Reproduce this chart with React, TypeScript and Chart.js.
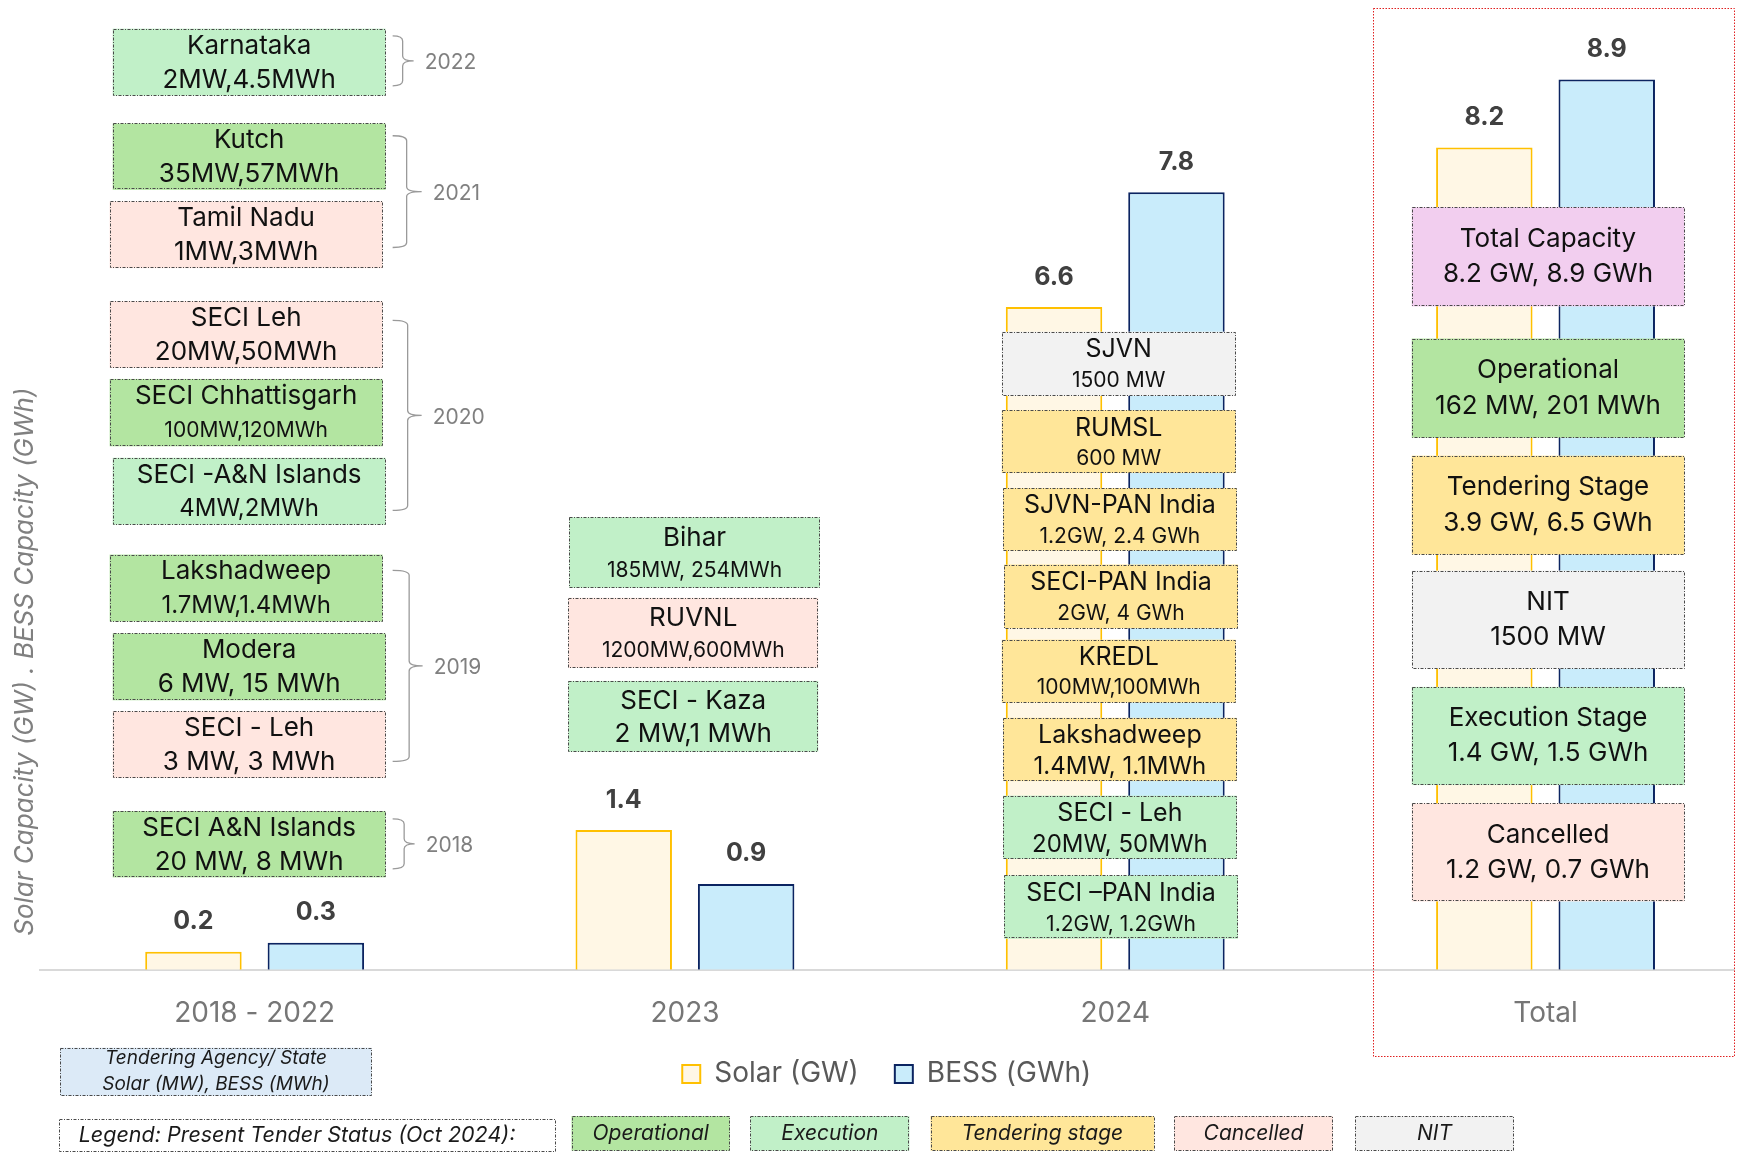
import React, { useEffect, useRef } from 'react';
import { Chart, registerables } from 'chart.js';

Chart.register(...registerables);

const FONT = 'Inter, "Noto Sans", sans-serif';

// ---------- data ----------
const categories = ['2018 - 2022', '2023', '2024', 'Total'];
const solarGW = [0.18, 1.4, 6.64, 8.24];
const bessGWh = [0.27, 0.86, 7.79, 8.92];

const statusColors: Record<string, string> = {
  op: '#B3E5A1',
  exec: '#C1F0C8',
  tender: '#FFE699',
  cancel: '#FFE6E0',
  nit: '#F2F2F2',
  total: '#F2CEEF',
};

const tenders2018to2022 = [
  ['Karnataka', '2MW,4.5MWh', 'exec'],
  ['Kutch', '35MW,57MWh', 'op'],
  ['Tamil Nadu', '1MW,3MWh', 'cancel'],
  ['SECI Leh', '20MW,50MWh', 'cancel'],
  ['SECI Chhattisgarh', '100MW,120MWh', 'op'],
  ['SECI -A&N Islands', '4MW,2MWh', 'exec'],
  ['Lakshadweep', '1.7MW,1.4MWh', 'op'],
  ['Modera', '6 MW, 15 MWh', 'op'],
  ['SECI - Leh', '3 MW, 3 MWh', 'cancel'],
  ['SECI A&N Islands', '20 MW, 8 MWh', 'op'],
];
const tenders2023 = [
  ['Bihar', '185MW, 254MWh', 'exec'],
  ['RUVNL', '1200MW,600MWh', 'cancel'],
  ['SECI - Kaza', '2 MW,1 MWh', 'exec'],
];
const tenders2024 = [
  ['SJVN', '1500 MW', 'nit'],
  ['RUMSL', '600 MW', 'tender'],
  ['SJVN-PAN India', '1.2GW, 2.4 GWh', 'tender'],
  ['SECI-PAN India', '2GW, 4 GWh', 'tender'],
  ['KREDL', '100MW,100MWh', 'tender'],
  ['Lakshadweep', '1.4MW, 1.1MWh', 'tender'],
  ['SECI - Leh', '20MW, 50MWh', 'exec'],
  ['SECI \u2013PAN India', '1.2GW, 1.2GWh', 'exec'],
];
const totalSummary = [
  ['Total Capacity', '8.2 GW, 8.9 GWh', 'total'],
  ['Operational', '162 MW, 201 MWh', 'op'],
  ['Tendering Stage', '3.9 GW, 6.5 GWh', 'tender'],
  ['NIT', '1500 MW', 'nit'],
  ['Execution Stage', '1.4 GW, 1.5 GWh', 'exec'],
  ['Cancelled', '1.2 GW, 0.7 GWh', 'cancel'],
];
const bracketYears = ['2022', '2021', '2020', '2019', '2018'];
const statusLegend = [
  ['Operational', 'op'],
  ['Execution', 'exec'],
  ['Tendering stage', 'tender'],
  ['Cancelled', 'cancel'],
  ['NIT', 'nit'],
];
const legendCaption = 'Legend: Present Tender Status (Oct 2024):';
const agencyNote = ['Tendering Agency/ State', 'Solar (MW), BESS (MWh)'];
const yTitle = 'Solar Capacity (GW) . BESS Capacity (GWh)';

// ---------- layout (positions / sizes) ----------
// [valueTop, valueBottom, dxLeft, dxRight, titleSize, subSize]
const layout2018to2022 = [
  [9.43, 8.76, -142, 131, 26, 26],
  [8.48, 7.815, -142, 131, 26, 26],
  [7.7, 7.03, -145, 128, 26, 26],
  [6.7, 6.03, -145, 128, 26, 26],
  [5.92, 5.245, -145, 128, 26, 21],
  [5.13, 4.46, -142, 131, 26, 24],
  [4.16, 3.49, -145, 128, 26, 24],
  [3.37, 2.7, -142, 131, 26, 26],
  [2.59, 1.92, -142, 131, 26, 26],
  [1.59, 0.925, -142, 131, 26, 26],
];
const layout2023 = [
  [4.534, 3.827, -115.7, 135, 26, 21],
  [3.727, 3.024, -116.7, 133.3, 26, 21],
  [2.894, 2.184, -116.7, 133.3, 26, 26],
];
const layout2024 = [
  [6.394, 5.75, -113.5, 120.5, 25, 21],
  [5.607, 4.977, -113.5, 120.5, 25, 21],
  [4.827, 4.2, -112.2, 121.5, 25, 21],
  [4.06, 3.422, -111.2, 122.8, 25, 21],
  [3.307, 2.677, -113.5, 120.5, 25, 21],
  [2.524, 1.89, -112.2, 121.5, 25, 24],
  [1.744, 1.11, -112.2, 121.5, 25, 24],
  [0.944, 0.31, -111.2, 122.8, 25, 21],
];
const layoutTotal = [
  [7.642, 6.647, -133.8, 138.8, 26, 26],
  [6.325, 5.331, -133.8, 138.8, 26, 26],
  [5.151, 4.161, -133.8, 138.8, 26, 26],
  [4.0, 3.017, -133.8, 138.8, 26, 26],
  [2.834, 1.85, -133.8, 138.8, 26, 26],
  [1.667, 0.684, -133.8, 138.8, 26, 26],
];
const groups = [
  { cat: 0, items: tenders2018to2022, layout: layout2018to2022, frac: [0.255, 0.765] },
  { cat: 1, items: tenders2023, layout: layout2023, frac: [0.29, 0.757] },
  { cat: 2, items: tenders2024, layout: layout2024, frac: [0.285, 0.77] },
  { cat: 3, items: totalSummary, layout: layoutTotal, frac: [0.32, 0.68] },
];
// [valueTop, valueBottom, dxStart, dxVertical, dxTip]
const bracketLayout = [
  [9.357, 8.857, 138, 148, 159],
  [8.357, 7.237, 138, 152, 167],
  [6.507, 4.602, 138, 153, 167],
  [4.002, 2.087, 138, 154.5, 168],
  [1.511, 1.011, 138, 149.5, 160],
];
const statusLegendX = [
  [571.5, 729.9],
  [750.4, 909.4],
  [930.5, 1154.2],
  [1174, 1333],
  [1355, 1514],
];

function dashedBox(ctx: CanvasRenderingContext2D, x1: number, y1: number, x2: number, y2: number, fill: string, stroke = '#4a4a4a', dash = [3, 1.5, 1, 1.5]) {
  ctx.save();
  if (fill) {
    ctx.fillStyle = fill;
    ctx.fillRect(x1, y1, x2 - x1, y2 - y1);
  }
  ctx.setLineDash(dash);
  ctx.lineWidth = 1;
  ctx.strokeStyle = stroke;
  ctx.strokeRect(Math.round(x1) + 0.5, Math.round(y1) + 0.5, Math.round(x2 - x1) - 1, Math.round(y2 - y1) - 1);
  ctx.restore();
}

const overlayPlugin = {
  id: 'overlay',
  afterDatasetsDraw(chart: any) {
    const ctx: CanvasRenderingContext2D = chart.ctx;
    const xs = chart.scales.x;
    const ys = chart.scales.y;
    const X = (i: number, dx: number) => xs.getPixelForValue(i) + dx;
    const Y = (v: number) => ys.getPixelForValue(v);

    ctx.save();
    // bar value labels
    ctx.font = `bold 25px ${FONT}`;
    ctx.fillStyle = '#404040';
    ctx.textAlign = 'center';
    ctx.textBaseline = 'middle';
    [solarGW, bessGWh].forEach((vals, di) => {
      const meta = chart.getDatasetMeta(di);
      meta.data.forEach((bar: any, i: number) => {
        ctx.fillText(vals[i].toFixed(1), bar.x, bar.y - 30);
      });
    });

    // tender boxes
    groups.forEach((g) => {
      g.items.forEach((it, k) => {
        const [vt, vb, dl, dr, ts, ss] = g.layout[k];
        const x1 = X(g.cat, dl);
        const x2 = X(g.cat, dr);
        const y1 = Y(vt);
        const y2 = Y(vb);
        dashedBox(ctx, x1, y1, x2, y2, statusColors[it[2]]);
        const cx = (x1 + x2) / 2;
        const h = y2 - y1;
        ctx.fillStyle = '#111111';
        ctx.textAlign = 'center';
        ctx.textBaseline = 'middle';
        ctx.font = `${ts}px ${FONT}`;
        ctx.fillText(it[0], cx, y1 + h * g.frac[0]);
        ctx.font = `${ss}px ${FONT}`;
        ctx.fillText(it[1], cx, y1 + h * g.frac[1]);
      });
    });

    // year brackets
    bracketYears.forEach((yr, k) => {
      const [vt, vb, ds, dv, dt] = bracketLayout[k];
      const top = Y(vt);
      const bot = Y(vb);
      const mid = (top + bot) / 2;
      const x0 = X(0, ds);
      const xv = X(0, dv);
      const xt = X(0, dt);
      const r = 5;
      ctx.save();
      ctx.strokeStyle = '#9a9a9a';
      ctx.lineWidth = 1.3;
      ctx.beginPath();
      ctx.moveTo(x0, top);
      ctx.quadraticCurveTo(xv, top, xv, top + r);
      ctx.lineTo(xv, mid - r);
      ctx.quadraticCurveTo(xv, mid, xt, mid);
      ctx.quadraticCurveTo(xv, mid, xv, mid + r);
      ctx.lineTo(xv, bot - r);
      ctx.quadraticCurveTo(xv, bot, x0, bot);
      ctx.stroke();
      ctx.restore();
      ctx.fillStyle = '#808080';
      ctx.font = `21px ${FONT}`;
      ctx.textAlign = 'left';
      ctx.textBaseline = 'middle';
      ctx.fillText(yr, xt + 11, mid + 2);
    });

    // red dotted frame round the totals
    dashedBox(ctx, X(3, -172.8), Y(9.638), X(3, 189.5), Y(-0.873), '', '#e02020', [1.5, 1.5]);

    // y axis title
    ctx.save();
    ctx.translate(chart.chartArea.left - 14, Y(3.087));
    ctx.rotate(-Math.PI / 2);
    ctx.font = `italic 26px ${FONT}`;
    ctx.fillStyle = '#808080';
    ctx.textAlign = 'center';
    ctx.textBaseline = 'middle';
    ctx.fillText(yTitle, 0, 0);
    ctx.restore();

    // agency note
    dashedBox(ctx, 60, 1047.7, 371.7, 1096, '#DCEAF7');
    ctx.fillStyle = '#1a1a1a';
    ctx.font = `italic 19px ${FONT}`;
    ctx.textAlign = 'center';
    ctx.fillText(agencyNote[0], 216, 1058);
    ctx.fillText(agencyNote[1], 216, 1084);

    // status legend
    dashedBox(ctx, 59, 1119, 556, 1152, '#ffffff');
    ctx.font = `italic 21.5px ${FONT}`;
    ctx.fillStyle = '#1a1a1a';
    ctx.fillText(legendCaption, 297, 1136);
    statusLegend.forEach(([lab, st], k) => {
      const [a, b] = statusLegendX[k];
      dashedBox(ctx, a, 1116, b, 1150.7, statusColors[st]);
      ctx.fillStyle = '#1a1a1a';
      ctx.font = `italic 21px ${FONT}`;
      ctx.textAlign = 'center';
      ctx.textBaseline = 'middle';
      ctx.fillText(lab, (a + b) / 2, 1134);
    });
    ctx.restore();
  },
};

export default function App() {
  const ref = useRef<HTMLCanvasElement>(null);
  useEffect(() => {
    if (!ref.current) return;
    const chart = new Chart(ref.current, {
      type: 'bar',
      data: {
        datasets: [
          {
            label: 'Solar (GW)',
            data: categories.map((_, i) => ({ x: i, y: solarGW[i] })),
            backgroundColor: '#FFF7E5',
            borderColor: '#FFC000',
            borderWidth: 2,
            barPercentage: 0.788,
            categoryPercentage: 0.569,
          },
          {
            label: 'BESS (GWh)',
            data: categories.map((_, i) => ({ x: i, y: bessGWh[i] })),
            backgroundColor: '#C9ECFB',
            borderColor: '#0B2461',
            borderWidth: 2,
            barPercentage: 0.788,
            categoryPercentage: 0.569,
          },
        ] as any,
      },
      options: {
        animation: false,
        responsive: true,
        maintainAspectRatio: false,
        layout: { padding: { left: 39.5, right: 11, top: 21.7, bottom: 56 } },
        scales: {
          x: {
            type: 'linear',
            min: -0.5,
            max: 3.438,
            offset: false,
            grid: { display: false, drawTicks: false },
            border: { display: true, color: '#D9D9D9', width: 2 },
            ticks: {
              stepSize: 1,
              includeBounds: false,
              autoSkip: false,
              maxRotation: 0,
              padding: 27,
              color: '#767676',
              font: { family: FONT, size: 28 },
              callback: (v: any) => (Number.isInteger(v) ? categories[v] : ''),
            },
            afterFit: (scale: any) => {
              scale.height = 54.3;
            },
          } as any,
          y: { display: false, min: 0, max: 9.5 },
        },
        plugins: {
          legend: {
            position: 'bottom',
            fullSize: false,
            labels: {
              boxWidth: 18,
              boxHeight: 18,
              padding: 36,
              color: '#595959',
              font: { family: FONT, size: 28 },
            },
          },
          tooltip: { enabled: false },
        },
      } as any,
      plugins: [overlayPlugin],
    });
    return () => chart.destroy();
  }, []);
  return (
    <div style={{ position: 'absolute', left: 0, top: 0, width: 1745, height: 1154, background: '#ffffff' }}>
      <canvas ref={ref} />
    </div>
  );
}
